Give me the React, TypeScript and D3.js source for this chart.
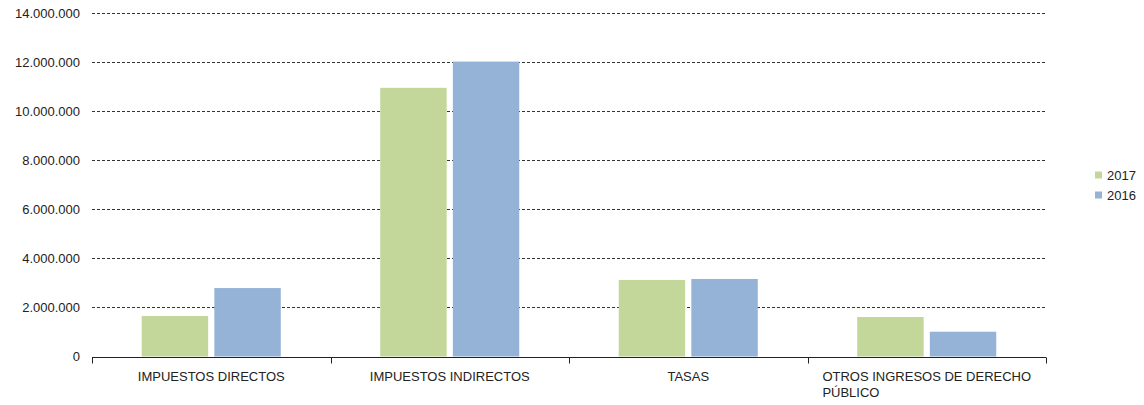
// Ingresos por capítulo - grouped bars 2017 vs 2016
import React, { useEffect, useRef } from 'react';
import * as d3 from 'd3';

const categories = [
  'IMPUESTOS DIRECTOS',
  'IMPUESTOS INDIRECTOS',
  'TASAS',
  'OTROS INGRESOS DE DERECHO PÚBLICO'
];
const seriesNames = ['2017', '2016'];
const values2017 = [1650000, 10950000, 3120000, 1610000];
const values2016 = [2790000, 12020000, 3160000, 1010000];
const yTicks = [0, 2000000, 4000000, 6000000, 8000000, 10000000, 12000000, 14000000];

const colors: Record<string, string> = {
  '2017': '#c4d79b',
  '2016': '#95b3d7'
};

const fmt = (v: number) => d3.format(',')(v).replace(/,/g, '.');

export default function App() {
  const svgRef = useRef<SVGSVGElement>(null);

  useEffect(() => {
    if (!svgRef.current) return;
    const svg = d3.select(svgRef.current);
    svg.selectAll('*').remove();

    const width = 1144;
    const height = 405;
    const left = 92;
    const right = 1046;
    const top = 13;
    const bottom = 356.5;
    const font = 'Liberation Sans, Arial, sans-serif';

    const x = d3.scaleBand<string>().domain(categories).range([left, right]).paddingInner(0).paddingOuter(0);
    const x1 = d3.scaleBand<string>().domain(seriesNames).range([0, x.bandwidth()]).paddingInner(0.085).paddingOuter(0.685);
    const y = d3.scaleLinear().domain([0, 14000000]).range([bottom, top]);

    // grid
    svg.append('g')
      .selectAll('line')
      .data(yTicks.filter(t => t > 0))
      .enter()
      .append('line')
      .attr('x1', left)
      .attr('x2', right)
      .attr('y1', d => Math.round(y(d)) + 0.5)
      .attr('y2', d => Math.round(y(d)) + 0.5)
      .attr('stroke', '#333')
      .attr('stroke-width', 1)
      .attr('stroke-dasharray', '3,2');

    // y labels
    svg.append('g')
      .selectAll('text')
      .data(yTicks)
      .enter()
      .append('text')
      .attr('x', 80)
      .attr('y', d => y(d))
      .attr('dy', '0.35em')
      .attr('text-anchor', 'end')
      .attr('font-family', font)
      .attr('font-size', 13)
      .attr('fill', '#222')
      .text(d => fmt(d));

    // bars
    const data = categories.map((c, i) => ({
      cat: c,
      vals: [
        { name: '2017', v: values2017[i] },
        { name: '2016', v: values2016[i] }
      ]
    }));

    const groups = svg.append('g')
      .selectAll('g')
      .data(data)
      .enter()
      .append('g')
      .attr('transform', d => `translate(${x(d.cat)},0)`);

    groups.selectAll('rect')
      .data(d => d.vals)
      .enter()
      .append('rect')
      .attr('x', d => x1(d.name) as number)
      .attr('width', x1.bandwidth())
      .attr('y', d => y(d.v))
      .attr('height', d => bottom - y(d.v))
      .attr('fill', d => colors[d.name]);

    // axis baseline + ticks
    const axisY = Math.round(bottom) + 0.5;
    svg.append('line')
      .attr('x1', left)
      .attr('x2', right)
      .attr('y1', axisY)
      .attr('y2', axisY)
      .attr('stroke', '#222')
      .attr('stroke-width', 1);

    const boundaries = [...categories.map(c => x(c) as number), right];
    svg.append('g')
      .selectAll('line')
      .data(boundaries)
      .enter()
      .append('line')
      .attr('x1', d => Math.round(d) + 0.5)
      .attr('x2', d => Math.round(d) + 0.5)
      .attr('y1', axisY)
      .attr('y2', axisY + 6)
      .attr('stroke', '#222');

    // x labels (wrap long labels)
    const maxW = x.bandwidth() - 10;
    categories.forEach(c => {
      const cx = (x(c) as number) + x.bandwidth() / 2;
      const t = svg.append('text')
        .attr('font-family', font)
        .attr('font-size', 13)
        .attr('fill', '#222')
        .attr('y', 381);
      const words = c.split(' ');
      const lines: string[] = [];
      let cur = '';
      const probe = t.append('tspan');
      words.forEach(w => {
        const test = cur ? cur + ' ' + w : w;
        probe.text(test);
        if ((probe.node() as SVGTSpanElement).getComputedTextLength() > maxW && cur) {
          lines.push(cur);
          cur = w;
        } else {
          cur = test;
        }
      });
      lines.push(cur);
      probe.text(lines[0]);
      const w0 = (probe.node() as SVGTSpanElement).getComputedTextLength();
      probe.remove();
      if (lines.length === 1) {
        t.attr('x', cx).attr('text-anchor', 'middle').text(lines[0]);
      } else {
        const sx = cx - w0 / 2;
        lines.forEach((ln, i) => {
          t.append('tspan')
            .attr('x', sx)
            .attr('dy', i === 0 ? 0 : 16)
            .text(ln);
        });
      }
    });

    // legend
    const legend = svg.append('g');
    seriesNames.forEach((s, i) => {
      const ly = 175 + i * 20;
      legend.append('rect')
        .attr('x', 1095)
        .attr('y', ly - 3.5)
        .attr('width', 7)
        .attr('height', 7)
        .attr('fill', colors[s]);
      legend.append('text')
        .attr('x', 1107)
        .attr('y', ly)
        .attr('dy', '0.35em')
        .attr('font-family', font)
        .attr('font-size', 13)
        .attr('fill', '#222')
        .text(s);
    });

    svg.attr('width', width).attr('height', height);
  }, []);

  return (
    <svg
      ref={svgRef}
      width={1144}
      height={405}
      style={{ position: 'absolute', top: 0, left: 0, display: 'block', background: '#fff' }}
    />
  );
}
